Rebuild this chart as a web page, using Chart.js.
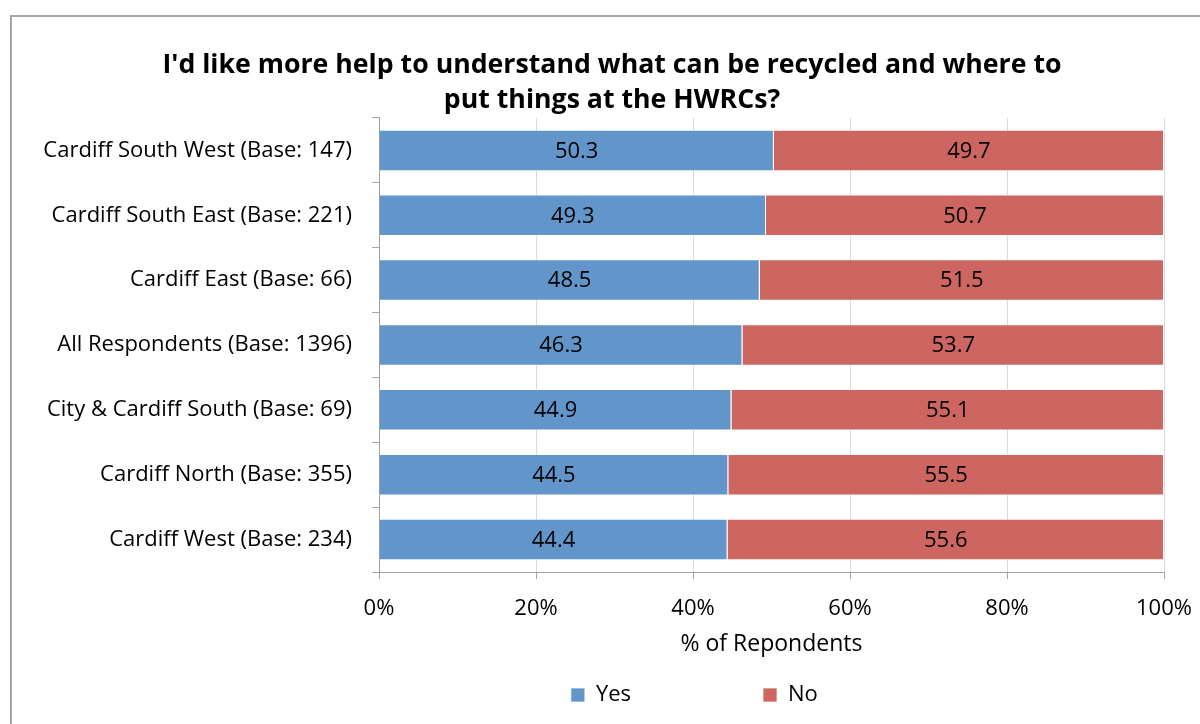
<!DOCTYPE html>
<html>
<head>
<meta charset="utf-8">
<script src="https://cdn.jsdelivr.net/npm/chart.js@4"></script>
<style>
  html, body { margin: 0; padding: 0; background: #fff; }
  #wrap { position: relative; width: 1200px; height: 724px; }
</style>
</head>
<body>
<div id="wrap"><canvas id="recycleChart" width="1200" height="724"></canvas></div>
<script>
// Chart data
const categories = [
    'Cardiff South West (Base: 147)',
    'Cardiff South East (Base: 221)',
    'Cardiff East (Base: 66)',
    'All Respondents (Base: 1396)',
    'City & Cardiff South (Base: 69)',
    'Cardiff North (Base: 355)',
    'Cardiff West (Base: 234)'
];
const yesValues = [50.3, 49.3, 48.5, 46.3, 44.9, 44.5, 44.4];
const noValues = [49.7, 50.7, 51.5, 53.7, 55.1, 55.5, 55.6];
const xTicks = [0, 20, 40, 60, 80, 100];

const FONT = '"Open Sans", "Noto Sans", sans-serif';
const LEGEND_FONT_SIZE = 22;

// pad a legend label with no-break spaces until it is wide enough
function padLabel(ctx, text, width) {
    ctx.save();
    ctx.font = LEGEND_FONT_SIZE + 'px ' + FONT;
    let out = text;
    while (ctx.measureText(out).width < width) {
        out += '\u00a0';
    }
    ctx.restore();
    return out;
}

// outer frame
const framePlugin = {
    id: 'frame',
    beforeDraw(chart) {
        const ctx = chart.ctx;
        ctx.save();
        ctx.strokeStyle = '#a6a6a6';
        ctx.lineWidth = 2;
        ctx.strokeRect(11, 16, 1300, 800);
        ctx.restore();
    }
};

// values written in the middle of each bar segment
const barLabelPlugin = {
    id: 'barLabels',
    afterDatasetsDraw(chart) {
        const ctx = chart.ctx;
        ctx.save();
        ctx.font = '22px ' + FONT;
        ctx.fillStyle = '#000';
        ctx.textAlign = 'center';
        ctx.textBaseline = 'middle';
        chart.data.datasets.forEach((ds, i) => {
            chart.getDatasetMeta(i).data.forEach((bar, j) => {
                const cx = (bar.x + bar.base) / 2;
                ctx.fillText(ds.data[j].toFixed(1), cx, bar.y + 1);
            });
        });
        ctx.restore();
    }
};

const ctx = document.getElementById('recycleChart').getContext('2d');
new Chart(ctx, {
    type: 'bar',
    data: {
        labels: categories,
        datasets: [{
            label: 'Yes',
            data: yesValues,
            backgroundColor: 'rgb(98, 150, 203)',
            borderColor: 'rgba(255,255,255,0.7)',
            borderWidth: 1,
            categoryPercentage: 1,
            barPercentage: 0.64
        }, {
            label: 'No',
            data: noValues,
            backgroundColor: 'rgb(205, 102, 96)',
            borderColor: 'rgba(255,255,255,0.7)',
            borderWidth: 1,
            categoryPercentage: 1,
            barPercentage: 0.64
        }]
    },
    options: {
        indexAxis: 'y',
        responsive: false,
        animation: false,
        layout: {
            padding: { top: 0, left: 24, right: 0, bottom: 8 }
        },
        scales: {
            x: {
                stacked: true,
                min: 0,
                max: 100,
                afterBuildTicks(scale) {
                    scale.ticks = xTicks.map(v => ({ value: v }));
                },
                afterFit(scale) {
                    scale.height = 100;
                    scale.paddingRight = 36;
                },
                ticks: {
                    callback: v => v + '%',
                    color: '#000',
                    font: { size: 22, family: FONT },
                    padding: 17,
                    maxRotation: 0
                },
                grid: {
                    color: '#d9d9d9',
                    tickColor: '#a6a6a6',
                    tickLength: 7
                },
                border: { color: '#a0a0a0', width: 1 },
                title: {
                    display: true,
                    text: '% of Repondents',
                    color: '#000',
                    font: { size: 23, family: FONT },
                    padding: { top: 4, bottom: 14 }
                }
            },
            y: {
                stacked: true,
                afterFit(scale) {
                    scale.width = 355;
                },
                ticks: {
                    color: '#000',
                    font: { size: 22, family: FONT },
                    padding: 20
                },
                grid: {
                    drawOnChartArea: false,
                    tickColor: '#a6a6a6',
                    tickLength: 7
                },
                border: { color: '#a0a0a0', width: 1 }
            }
        },
        plugins: {
            title: {
                display: true,
                text: ["I'd like more help to understand what can be recycled and where to", 'put things at the HWRCs?'],
                color: '#000',
                font: { size: 26.7, weight: 'bold', family: FONT, lineHeight: 1.31 },
                padding: { top: 48, bottom: 0 }
            },
            legend: {
                position: 'bottom',
                fullSize: false,
                labels: {
                    color: '#000',
                    font: { size: LEGEND_FONT_SIZE, family: FONT },
                    boxWidth: 14,
                    boxHeight: 14,
                    padding: 12,
                    generateLabels(chart) {
                        const items = Chart.defaults.plugins.legend.labels.generateLabels(chart);
                        items[0].text = padLabel(chart.ctx, items[0].text, 150);
                        items[1].text = padLabel(chart.ctx, items[1].text, 180);
                        return items;
                    }
                }
            },
            tooltip: { enabled: false }
        }
    },
    plugins: [framePlugin, barLabelPlugin]
});
</script>
</body>
</html>
